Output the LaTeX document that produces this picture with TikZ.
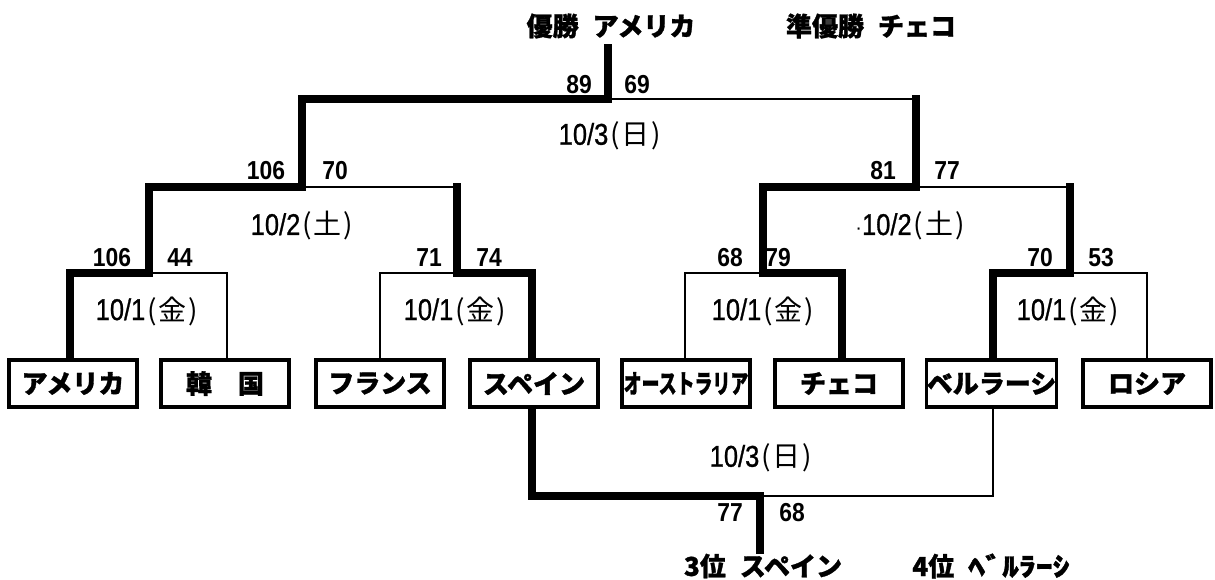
\documentclass[tikz,border=0pt]{standalone}
\usepackage{fontspec}
\usepackage{graphicx}
\newfontfamily\jp{Noto Sans CJK JP}[BoldFeatures={FakeBold=1.2}]
\newfontfamily\numf{Liberation Sans}
\newfontfamily\datef{Liberation Sans}[FakeBold=1]
\newcommand\sco[1]{\scalebox{0.88}[1]{\numf\bfseries\fontsize{26}{26}\selectfont #1}}
\newcommand\dte[2]{\scalebox{0.85}[1]{\datef\fontsize{30}{30}\selectfont #1}\kern2pt{\jp\fontsize{28}{28}\selectfont (\kern2pt#2\kern2pt)}}
\tikzset{
  team/.style={draw, line width=3.2pt, minimum width=128pt, minimum height=47pt, inner sep=0pt,
    font=\jp\bfseries\fontsize{26}{26}\selectfont},
  win/.style={line width=7.5pt, line join=miter, line cap=rect},
  lose/.style={line width=2.5pt, line join=miter, line cap=rect},
  lbl/.style={inner sep=0pt, font=\jp\bfseries\fontsize{26}{26}\selectfont},
  txt/.style={inner sep=0pt}
}
\begin{document}
\begin{tikzpicture}[x=1pt,y=-1pt]
\useasboundingbox (0,0) rectangle (1215,580);
% team boxes
\node[team] (b1) at (73,383.5) {アメリカ};
\node[team] (b2) at (225,383.5) {韓　国};
\node[team] (b3) at (380,383.5) {フランス};
\node[team] (b4) at (534,383.5) {スペイン};
\node[team] (b5) at (686,383.5) {\scalebox{0.69}[1]{オーストラリア}};
\node[team] (b6) at (839,383.5) {チェコ};
\node[team] (b7) at (991.5,383.5) {ベルラーシ};
\node[team] (b8) at (1147,383.5) {ロシア};
% bracket points
\coordinate (v1) at (70,273);  \coordinate (v2) at (227,273);
\coordinate (v3) at (380,273); \coordinate (v4) at (532,273);
\coordinate (v5) at (685,273); \coordinate (v6) at (842,273);
\coordinate (v7) at (993,273); \coordinate (v8) at (1147,273);
\coordinate (j1) at (149,273); \coordinate (j2) at (457,273);
\coordinate (j3) at (763,273); \coordinate (j4) at (1070,273);
\coordinate (k1) at (149,187); \coordinate (k2) at (457,187);
\coordinate (k3) at (763,187); \coordinate (k4) at (1070,187);
\coordinate (s1) at (302,187); \coordinate (s2) at (916,187);
\coordinate (u1) at (302,99);  \coordinate (u2) at (916,99);
\coordinate (f) at (608,99);   \coordinate (top) at (608,48);
\coordinate (w4) at (532,496); \coordinate (w7) at (993,496);
\coordinate (t) at (760,496);  \coordinate (tb) at (760,550);
% losing lines
\draw[lose] (b2.north -| v2) -- (v2) -- (j1);
\draw[lose] (b3.north -| v3) -- (v3) -- (j2);
\draw[lose] (b5.north -| v5) -- (v5) -- (j3);
\draw[lose] (b8.north -| v8) -- (v8) -- (j4);
\draw[lose] (k2) -- (s1);
\draw[lose] (k4) -- (s2);
\draw[lose] (u2) -- (f);
\draw[lose] (b7.south -| v7) -- (w7) -- (t);
% winning lines
\draw[win] (b1.north -| v1) -- (v1) -- (j1) -- (k1) -- (s1) -- (u1) -- (f) -- (top);
\draw[win] (b4.north -| v4) -- (v4) -- (j2) -- (k2);
\draw[win] (b6.north -| v6) -- (v6) -- (j3) -- (k3) -- (s2) -- (u2);
\draw[win] (b7.north -| v7) -- (v7) -- (j4) -- (k4);
\draw[win] (b4.south -| v4) -- (w4) -- (t) -- (tb);
% titles
\node[lbl] (champ) at (611,26) {優勝\hspace{14pt}アメリカ};
\node[lbl] (second) at (871,26) {準優勝\hspace{14pt}チェコ};
\node[lbl] (third) at (763,566) {3位\hspace{14pt}スペイン};
\node[lbl] (fourth) at (991,566) {4位\hspace{14pt}\scalebox{1.3}[1]{ﾍﾞﾙﾗｰｼ}};
% scores
\node[txt] (sf1) at (579,85) {\sco{89}};
\node[txt] (sf2) at (637,85) {\sco{69}};
\node[txt] (sa1) at (266,171) {\sco{106}};
\node[txt] (sa2) at (335,171) {\sco{70}};
\node[txt] (sb1) at (883,171) {\sco{81}};
\node[txt] (sb2) at (947,171) {\sco{77}};
\node[txt] (r11) at (112,258) {\sco{106}};
\node[txt] (r12) at (180,258) {\sco{44}};
\node[txt] (r21) at (429,258) {\sco{71}};
\node[txt] (r22) at (489,258) {\sco{74}};
\node[txt] (r31) at (730,258) {\sco{68}};
\node[txt] (r32) at (778,258) {\sco{79}};
\node[txt] (r41) at (1040,258) {\sco{70}};
\node[txt] (r42) at (1101,258) {\sco{53}};
\node[txt] (st1) at (730,513) {\sco{77}};
\node[txt] (st2) at (792,513) {\sco{68}};
% dates
\node[txt] (d0) at (610,136) {\dte{10/3}{日}};
\node[txt] (d21) at (302,226) {\dte{10/2}{土}};
\node[txt] (d22) at (910,226) {{\numf\fontsize{20}{20}\selectfont ·}\dte{10/2}{土}};
\node[txt] (d11) at (147,311) {\dte{10/1}{金}};
\node[txt] (d12) at (455,311) {\dte{10/1}{金}};
\node[txt] (d13) at (763,311) {\dte{10/1}{金}};
\node[txt] (d14) at (1068,311) {\dte{10/1}{金}};
\node[txt] (d3) at (761,458) {\dte{10/3}{日}};
\end{tikzpicture}
\end{document}
